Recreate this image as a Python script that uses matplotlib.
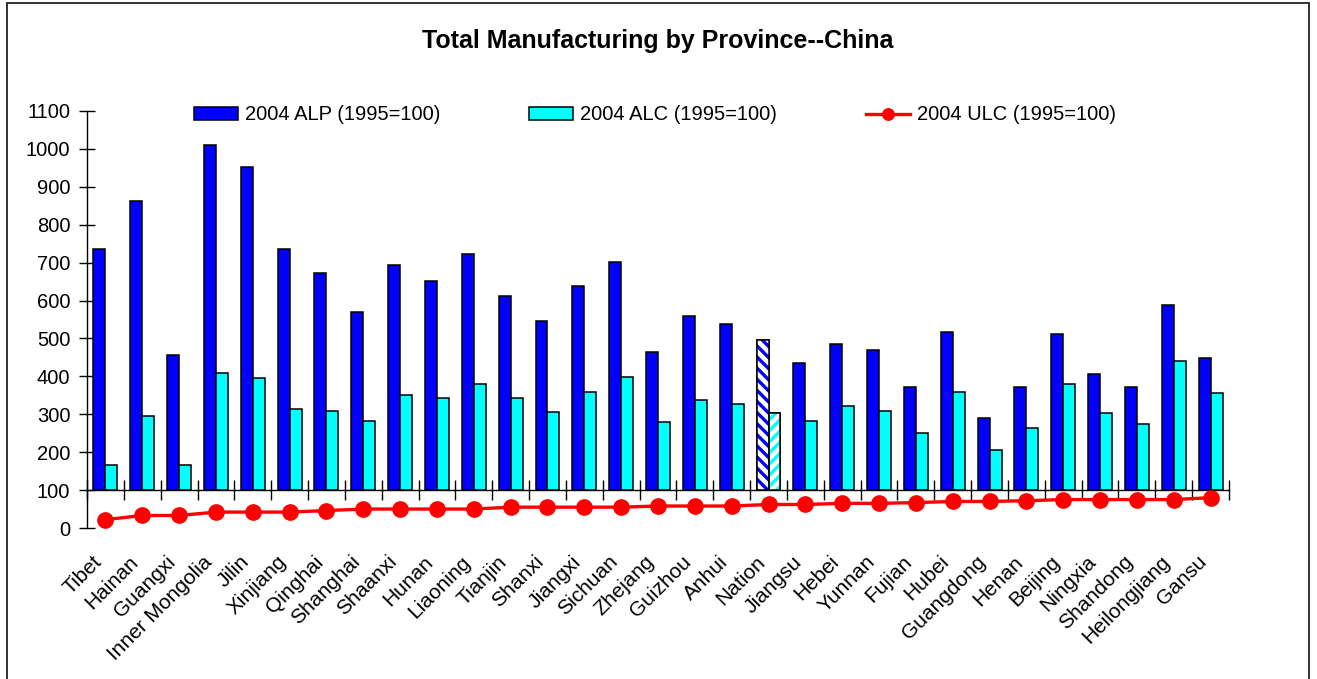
import matplotlib
matplotlib.use("Agg")
import matplotlib.pyplot as plt
import matplotlib.transforms as mtransforms
from matplotlib.patches import Rectangle
import numpy as np

plt.rcParams['font.family'] = ['Liberation Sans', 'DejaVu Sans']

provinces = ["Tibet", "Hainan", "Guangxi", "Inner Mongolia", "Jilin", "Xinjiang", "Qinghai",
             "Shanghai", "Shaanxi", "Hunan", "Liaoning", "Tianjin", "Shanxi", "Jiangxi",
             "Sichuan", "Zhejang", "Guizhou", "Anhui", "Nation", "Jiangsu", "Hebei", "Yunnan",
             "Fujian", "Hubei", "Guangdong", "Henan", "Beijing", "Ningxia", "Shandong",
             "Heilongjiang", "Gansu"]
alp = [736, 862, 456, 1010, 952, 736, 673, 570, 694, 652, 723, 612, 546, 638, 702, 464,
       559, 538, 496, 435, 485, 470, 372, 517, 290, 372, 512, 406, 372, 588, 449]
alc = [165, 296, 165, 410, 397, 313, 308, 283, 352, 343, 380, 343, 305, 360, 398, 280,
       337, 327, 303, 283, 322, 308, 250, 360, 207, 265, 380, 303, 275, 440, 355]
ulc = [22, 33, 33, 42, 42, 42, 46, 50, 50, 50, 50, 55, 55, 55, 55, 58, 58, 58, 62, 62,
       65, 65, 67, 70, 70, 72, 75, 75, 75, 75, 80]
yticks = [0, 100, 200, 300, 400, 500, 600, 700, 800, 900, 1000, 1100]
labels = ["2004 ALP (1995=100)", "2004 ALC (1995=100)", "2004 ULC (1995=100)"]
title = "Total Manufacturing by Province--China"
highlight = "Nation"

W, H = 1317, 679
fig = plt.figure(figsize=(W / 100, H / 100), dpi=100)
fig.patch.set_facecolor('white')

# outer chart border
fig.add_artist(Rectangle((7 / W, -0.01), (1309 - 7) / W, 1 - 3 / H + 0.01,
                         transform=fig.transFigure, fill=False, edgecolor='#222222', lw=1.3))

ax = fig.add_axes([87 / W, 1 - 528 / H, (1229 - 87) / W, (528 - 111) / H])
base = 100
n = len(provinces)
x = np.arange(n)
bw = 0.325

alp_h = [v - base for v in alp]
alc_h = [v - base for v in alc]
hi = provinces.index(highlight)

blue = '#0000FF'
cyan = '#00FFFF'
red = '#FF0000'

alp_col = [blue] * n
alc_col = [cyan] * n
alp_col[hi] = 'white'
alc_col[hi] = 'white'

b1 = ax.bar(x - bw / 2, alp_h, bw, bottom=base, color=alp_col, edgecolor='black', lw=1.1,
            label=labels[0], zorder=3)
b2 = ax.bar(x + bw / 2, alc_h, bw, bottom=base, color=alc_col, edgecolor='black', lw=1.1,
            label=labels[1], zorder=3)

# hatched highlight bars (Nation)
plt.rcParams['hatch.linewidth'] = 2.4
ax.bar(x[hi] - bw / 2, alp_h[hi], bw, bottom=base, color='white', edgecolor=blue,
       hatch='\\\\\\', lw=0, zorder=3.5)
ax.bar(x[hi] + bw / 2, alc_h[hi], bw, bottom=base, color='white', edgecolor=cyan,
       hatch='///', lw=0, zorder=3.5)
ax.bar(x[hi] - bw / 2, alp_h[hi], bw, bottom=base, fill=False, edgecolor='black', lw=1.1, zorder=3.6)
ax.bar(x[hi] + bw / 2, alc_h[hi], bw, bottom=base, fill=False, edgecolor='black', lw=1.1, zorder=3.6)

ln, = ax.plot(x, ulc, color=red, lw=2.4, marker='o', markersize=11, markeredgecolor=red,
              label=labels[2], zorder=4, clip_on=False)

ax.set_xlim(-0.5, n - 0.5)
ax.set_ylim(0, 1100)
ax.set_yticks(yticks)
ax.set_yticklabels([str(t) for t in yticks], fontsize=14.5)
ax.tick_params(axis='y', direction='inout', length=12, width=1, pad=6)

for s in ['top', 'right']:
    ax.spines[s].set_visible(False)
ax.spines['bottom'].set_position(('data', base))
ax.spines['left'].set_linewidth(1)
ax.spines['bottom'].set_linewidth(1)

ax.set_xticks(np.arange(n + 1) - 0.5)
ax.set_xticklabels([])
ax.tick_params(axis='x', direction='inout', length=14, width=1)

trans = mtransforms.blended_transform_factory(ax.transData, ax.transAxes)
for i, p in enumerate(provinces):
    ax.text(x[i] - 0.36, -0.058, p, transform=trans, rotation=45, ha='right', va='top',
            rotation_mode='anchor', fontsize=15)

fig.text(658 / W, 1 - 41 / H, title, ha='center', va='center', fontsize=18, fontweight='bold')

leg = ax.legend(handles=[b1, b2, ln], labels=labels, loc='center',
                bbox_to_anchor=(655 / W, 1 - 115 / H), bbox_transform=fig.transFigure,
                ncol=3, frameon=False, fontsize=14.5, handlelength=2.2, handleheight=0.6,
                handletextpad=0.35, columnspacing=4.4, markerscale=0.75)

fig.savefig("out.png", dpi=100, facecolor='white')
